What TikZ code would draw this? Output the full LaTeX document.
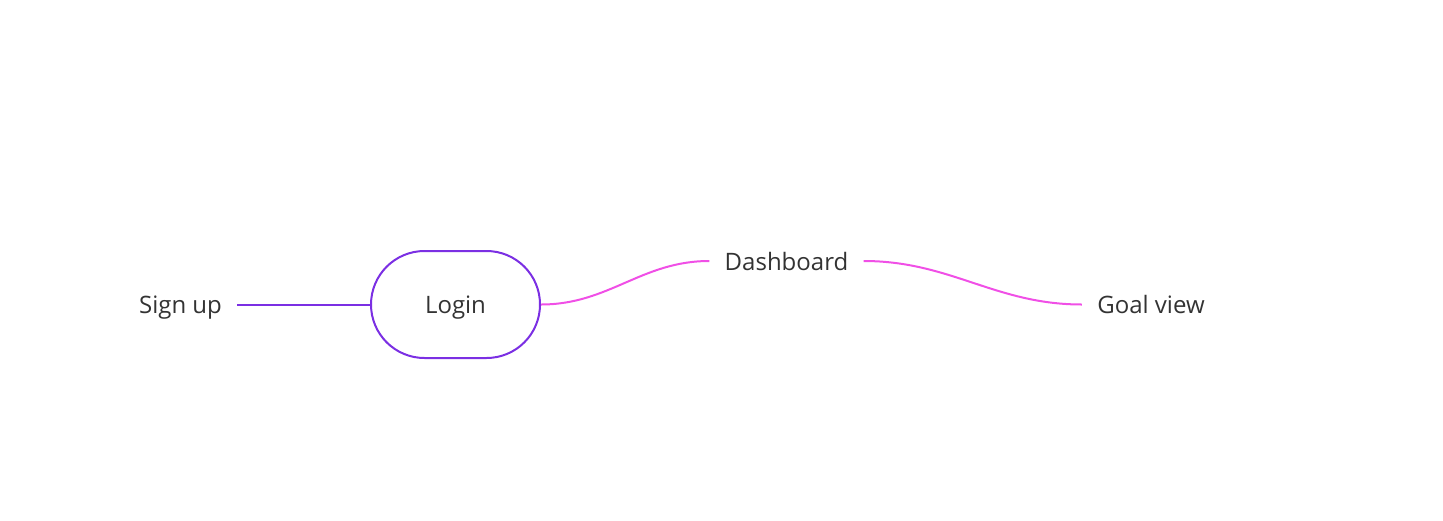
\documentclass[tikz,border=0pt]{standalone}
\usepackage{fontspec}
\setmainfont{Open Sans}
\definecolor{loginpurple}{HTML}{7B2FE3}
\definecolor{linkpink}{HTML}{F04FE6}
\definecolor{labelgrey}{HTML}{333333}

\begin{document}
\begin{tikzpicture}[x=0.5pt,y=-0.5pt,>=latex,
	label/.style={text=labelgrey,font=\fontsize{12}{14}\selectfont,inner xsep=7.5pt,inner ysep=2pt,text height=11.75pt,text depth=2.75pt},
	pill/.style={label,rectangle,rounded corners=26.75pt,draw=loginpurple,line width=1pt,minimum width=84.5pt,minimum height=53.5pt}]

	% Fix the page size
	\useasboundingbox (0,0) rectangle (1443,520);

	% Draw the nodes
	\node[pill] (login) at (455.5,304.5) {Login};
	\node[label] (signup) at (180.5,304.5) {Sign up};
	\node[label] (dash) at (786.5,261) {Dashboard};
	\node[label] (goal) at (1151,304.5) {Goal view};

	% Draw the links
	\draw[line width=1pt,loginpurple] (signup.east) -- (login.west);
	\draw[line width=1pt,linkpink] (login.east) to[out=0,in=180] (dash.west);
	\draw[line width=1pt,linkpink] (dash.east) to[out=0,in=180] (goal.west);
\end{tikzpicture}
\end{document}
